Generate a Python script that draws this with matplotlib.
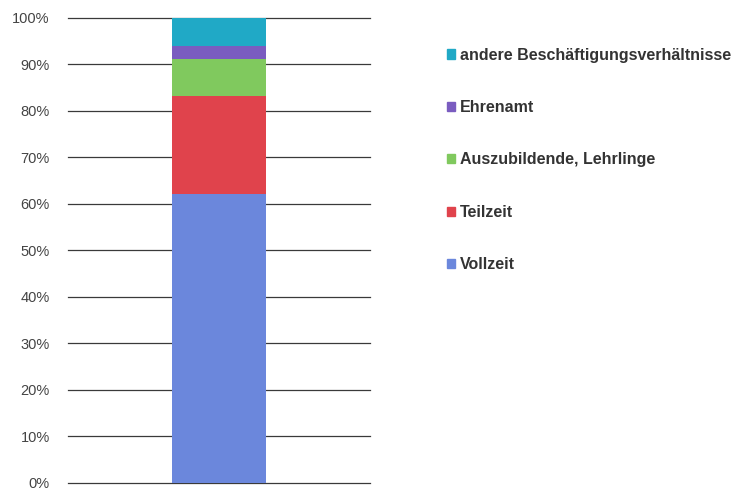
import numpy as np
import matplotlib.pyplot as plt
from matplotlib.patches import Patch
from matplotlib.ticker import FuncFormatter

plt.rcParams['font.family'] = ['Liberation Sans', 'DejaVu Sans']

# Anteile der Beschäftigungsverhältnisse (in %), von unten nach oben gestapelt
categories = ['Vollzeit', 'Teilzeit', 'Auszubildende, Lehrlinge', 'Ehrenamt',
              'andere Beschäftigungsverhältnisse']
shares = [62.1, 21.2, 7.8, 2.9, 6.0]
colors = ['#6b87dc', '#e0434c', '#80c95e', '#7a5cc0', '#20a9c6']

fig = plt.figure(figsize=(7.38, 4.9), dpi=100)
ax = fig.add_axes([0.092, 0.0143, 0.409, 0.949])

bottom = 0
for cat, val, col in zip(categories, shares, colors):
    ax.bar(0, val, bottom=bottom, width=0.31, color=col, zorder=3, label=cat)
    bottom += val

ax.set_xlim(-0.5, 0.5)
ax.set_ylim(0, 100)
ax.set_yticks(np.arange(0, 101, 10))
ax.yaxis.set_major_formatter(FuncFormatter(lambda v, _: f'{v:.0f}%'))
ax.set_xticks([])
ax.grid(axis='y', color='#3a3a3a', linewidth=0.9, zorder=1)
for line in ax.get_ygridlines():
    line.set_clip_on(False)
ax.tick_params(axis='y', length=0, pad=13, labelsize=10.5, labelcolor='#444444')
for s in ax.spines.values():
    s.set_visible(False)

handles = [Patch(color=c) for c in colors][::-1]
labels = categories[::-1]
fig.legend(handles, labels, loc='upper left', bbox_to_anchor=(0.586, 0.932),
           frameon=False, handlelength=0.5, handleheight=0.5,
           handletextpad=0.3, labelspacing=2.34,
           prop={'size': 11.5, 'weight': 'bold'}, labelcolor='#333333')

plt.savefig('out.png', dpi=100)
